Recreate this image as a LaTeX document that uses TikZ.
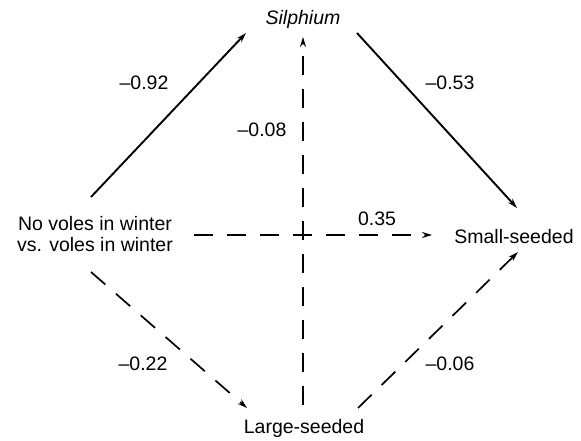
\documentclass[tikz,border=0pt]{standalone}
\usepackage{fontspec}
\setmainfont{Liberation Sans}
\usetikzlibrary{arrows.meta}
\begin{document}
\begin{tikzpicture}[x=1pt,y=-1pt,
  lbl/.style={font=\fontsize{19.5}{21}\selectfont, inner sep=0pt, anchor=base},
  coef/.style={font=\fontsize{19.5}{21}\selectfont, inner sep=0pt, anchor=base},
  arr/.style={-{Stealth[length=10pt,width=6pt]}, line width=1.9pt},
  darr/.style={-{Stealth[length=10pt,width=6pt]}, line width=1.7pt, dash pattern=on 19pt off 14pt}]
\useasboundingbox (0,0) rectangle (581,441);
\node[lbl, align=center] (voles) at (95,251) {No voles in winter\\vs. voles in winter};
\node[lbl] (sil) at (303,25) {\itshape Silphium};
\node[lbl] (small) at (514,243) {Small-seeded};
\node[lbl] (large) at (304,433) {Large-seeded};
\coordinate (a1s) at (91,197); \coordinate (a1e) at (246,33);
\coordinate (a2s) at (357,33); \coordinate (a2e) at (517,208);
\coordinate (a3s) at (303,405); \coordinate (a3e) at (303,37);
\coordinate (a4s) at (194,235); \coordinate (a4e) at (432,235);
\coordinate (a5s) at (91,272); \coordinate (a5e) at (247,408);
\coordinate (a6s) at (358,408); \coordinate (a6e) at (518,252);
\draw[arr] (a1s) -- (a1e);
\draw[arr] (a2s) -- (a2e);
\draw[darr] (a3s) -- (a3e);
\draw[darr] (a4s) -- (a4e);
\draw[darr] (a5s) -- (a5e);
\draw[darr] (a6s) -- (a6e);
\node[coef] (c1) at (144,90) {–0.92};
\node[coef] (c2) at (450,90) {–0.53};
\node[coef] (c3) at (262,137) {–0.08};
\node[coef] (c4) at (377,225) {0.35};
\node[coef] (c5) at (143,370) {–0.22};
\node[coef] (c6) at (450,370) {–0.06};
\end{tikzpicture}
\end{document}
